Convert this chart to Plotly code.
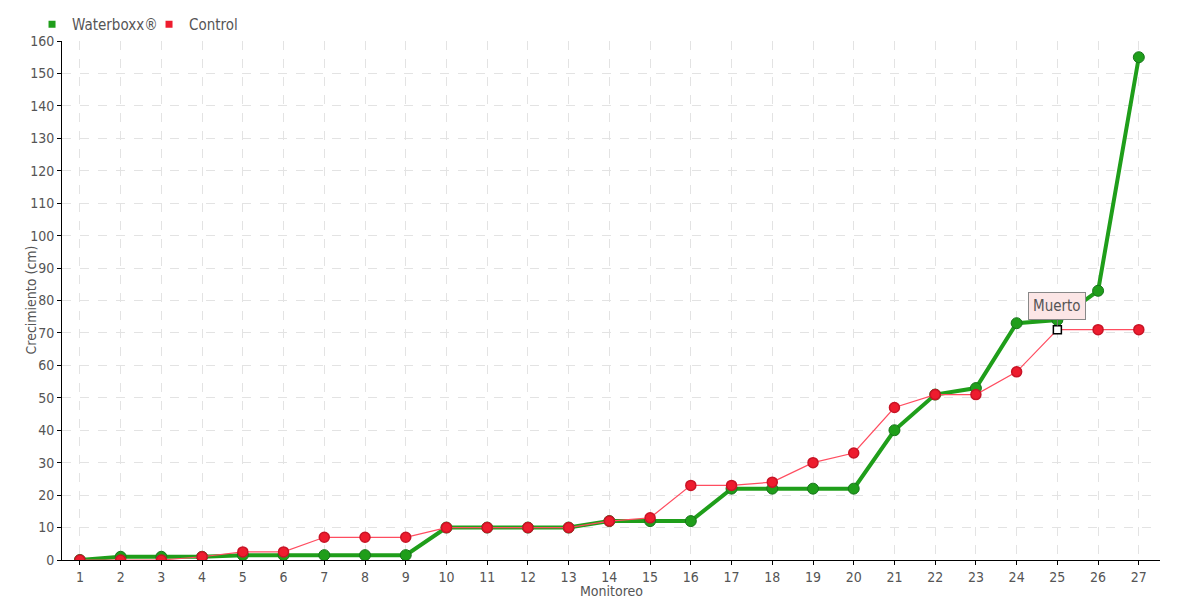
import plotly.graph_objects as go

monitoreo = list(range(1, 28))
waterboxx = [0, 1, 1, 1, 1.5, 1.5, 1.5, 1.5, 1.5, 10, 10, 10, 10, 12, 12, 12, 22, 22, 22, 22, 40, 51, 53, 73, 74, 83, 155]
control = [0, 0, 0, 1, 2.5, 2.5, 7, 7, 7, 10, 10, 10, 10, 12, 13, 23, 23, 24, 30, 33, 47, 51, 51, 58, 71, 71, 71]
y_ticks = list(range(0, 161, 10))
note_label = "Muerto"
note_index = 24

FONT = "Liberation Sans Narrow, DejaVu Sans Condensed, Roboto, sans-serif"
GREEN = "#1f9e1a"
RED = "#ee1c2e"
TXT = "#555555"

red_symbols = ["circle"] * len(control)
red_colors = [RED] * len(control)
red_sizes = [10] * len(control)
red_line_colors = ["#c81426"] * len(control)
red_symbols[note_index] = "square"
red_colors[note_index] = "white"
red_sizes[note_index] = 8
red_line_colors[note_index] = "black"

fig = go.Figure()
fig.add_trace(go.Scatter(
    x=monitoreo, y=waterboxx, mode="lines+markers", name="Waterboxx®",
    line=dict(color=GREEN, width=4),
    marker=dict(size=11, color=GREEN, opacity=1, line=dict(color="#17751a", width=1)),
    showlegend=False,
))
fig.add_trace(go.Scatter(
    x=monitoreo, y=control, mode="lines+markers", name="Control",
    line=dict(color="#ff4d60", width=1.2),
    marker=dict(size=red_sizes, color=red_colors, symbol=red_symbols, opacity=1,
                line=dict(color=red_line_colors, width=1.5)),
    showlegend=False,
))
# legend entries (square swatches)
fig.add_trace(go.Scatter(x=[None], y=[None], mode="markers", name="Waterboxx®",
                         marker=dict(symbol="square", size=7, color=GREEN)))
fig.add_trace(go.Scatter(x=[None], y=[None], mode="markers", name="Control",
                         marker=dict(symbol="square", size=7, color=RED)))

fig.add_annotation(
    x=monitoreo[note_index], y=control[note_index], text=note_label,
    showarrow=True, arrowhead=0, arrowwidth=1, arrowcolor="#777",
    ax=0, ay=-10, yanchor="bottom", standoff=4,
    bgcolor="#fce6e6", bordercolor="#888", borderwidth=1, borderpad=4,
    font=dict(family=FONT, size=15, color=TXT),
)
# axis titles placed as in the reference
fig.add_annotation(
    x=0.5, y=0, xref="paper", yref="paper", text="Monitoreo", showarrow=False,
    xanchor="center", yanchor="middle", yshift=-31,
    font=dict(family=FONT, size=14, color=TXT),
)
fig.add_annotation(
    x=0, y=0.5, xref="paper", yref="paper", text="Crecimiento (cm)", showarrow=False,
    textangle=-90, xanchor="center", yanchor="middle", xshift=-32,
    font=dict(family=FONT, size=14, color=TXT),
)

fig.update_layout(
    width=1180, height=600,
    margin=dict(l=54, r=28, t=20, b=48),
    paper_bgcolor="white", plot_bgcolor="white",
    font=dict(family=FONT, size=14, color=TXT),
    legend=dict(orientation="h", x=-0.0273, xref="paper", y=1.0, yref="container",
                xanchor="left", yanchor="top", font=dict(family=FONT, size=15, color=TXT),
                itemwidth=30, entrywidth=72, entrywidthmode="pixels",
                tracegroupgap=0, bgcolor="rgba(0,0,0,0)"),
    xaxis=dict(
        range=[0.56, 27.52], tickmode="array", tickvals=monitoreo,
        ticktext=[str(v) for v in monitoreo], tickfont=dict(size=14),
        showline=True, linecolor="black", linewidth=1,
        ticks="outside", ticklen=4, tickcolor="black",
        showgrid=True, gridcolor="#e3e3e3", griddash="dash", gridwidth=1,
        zeroline=False, fixedrange=True, automargin=False,
    ),
    yaxis=dict(
        range=[0, 160], tickmode="array", tickvals=y_ticks,
        ticktext=[str(v) for v in y_ticks], tickfont=dict(size=14),
        showline=True, linecolor="black", linewidth=1,
        ticks="outside", ticklen=4, tickcolor="black",
        showgrid=True, gridcolor="#e3e3e3", griddash="dash", gridwidth=1,
        zeroline=False, fixedrange=True, automargin=False,
    ),
)

fig.write_html("out.html")
